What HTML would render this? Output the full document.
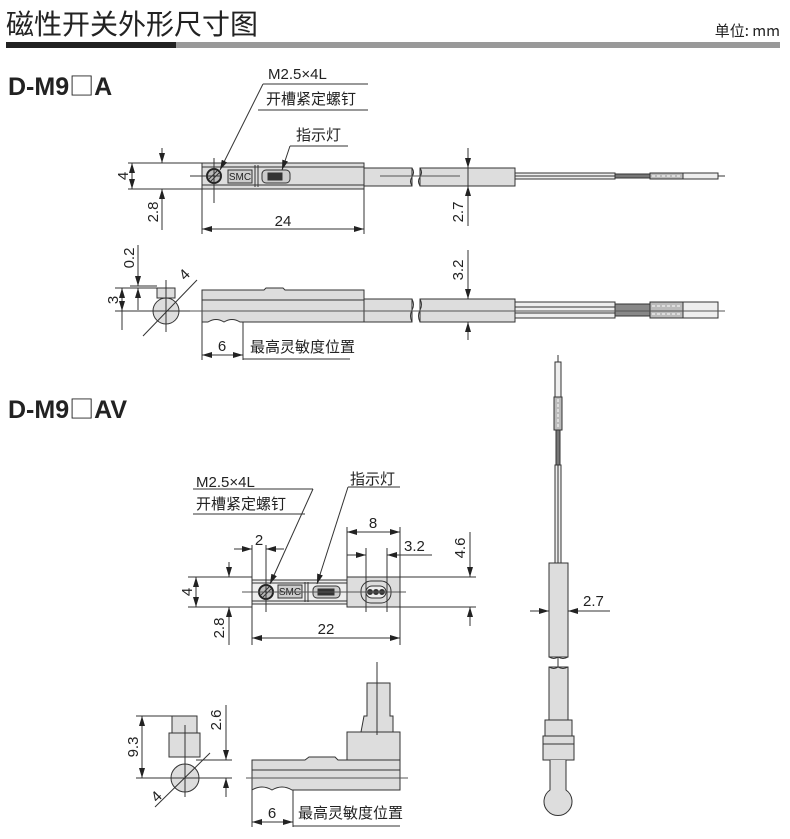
<!DOCTYPE html>
<html><head><meta charset="utf-8"><style>
html,body{margin:0;padding:0;background:#fff;}
svg{display:block;}
text{font-family:"Liberation Sans","Noto Sans CJK SC",sans-serif;fill:#222;}
.c{font-family:"Noto Sans CJK SC","WenQuanYi Zen Hei",sans-serif;}
</style></head><body>
<svg width="790" height="839" viewBox="0 0 790 839" xmlns="http://www.w3.org/2000/svg">
<defs>
<marker id="a" viewBox="0 0 10 6" refX="10" refY="3" markerWidth="10" markerHeight="6" orient="auto-start-reverse" markerUnits="userSpaceOnUse"><path d="M0,0 L10,3 L0,6z" fill="#222"/></marker>
</defs>
<!-- header -->
<text x="6" y="34" class="c" font-size="28" fill="#222">磁性开关外形尺寸图</text>
<text x="780" y="36" class="c" font-size="15" text-anchor="end">单位: mm</text>
<rect x="6" y="42" width="170" height="6" fill="#222"/>
<rect x="176" y="42" width="604" height="6" fill="#999"/>
<text x="8" y="95" font-size="25" font-weight="bold">D-M9<tspan font-family="Noto Sans CJK SC" font-weight="normal">□</tspan>A</text>
<text x="8" y="418" font-size="25" font-weight="bold">D-M9<tspan font-family="Noto Sans CJK SC" font-weight="normal">□</tspan>AV</text>

<g stroke="#333" stroke-width="1" fill="none">
<!-- ===== Section 1 top view ===== -->
<rect x="202" y="163" width="162" height="26" fill="#ddd"/>
<line x1="202" y1="167" x2="364" y2="167"/><line x1="202" y1="185" x2="364" y2="185"/>
<rect x="364" y="168" width="48" height="18" fill="#ddd"/>
<rect x="420" y="168" width="95" height="18" fill="#ddd"/>
<path d="M412,168 q3,4 0,9 q-3,4 0,9 M420,168 q3,4 0,9 q-3,4 0,9" stroke="#333"/>
<rect x="515" y="173" width="100" height="6" fill="#eee"/>
<line x1="515" y1="176" x2="615" y2="176"/>
<rect x="615" y="174" width="35" height="4" fill="#777"/>
<rect x="650" y="173" width="33" height="6" fill="#bbb"/>
<line x1="652" y1="176" x2="682" y2="176" stroke="#fff" stroke-dasharray="3,2"/>
<rect x="683" y="173" width="35" height="6" fill="#eee"/>
<line x1="718" y1="176" x2="725" y2="176"/>
<line x1="380" y1="176" x2="460" y2="176" stroke="#555"/>
<circle cx="214" cy="176" r="7" fill="#bbb" stroke="#222" stroke-width="2"/>
<line x1="209" y1="179" x2="217" y2="171"/><line x1="211" y1="181" x2="219" y2="173"/>
<line x1="214" y1="158" x2="214" y2="203"/><line x1="190" y1="176" x2="222" y2="176"/>
<rect x="228" y="170" width="24" height="13" fill="#ccc"/>
<text x="240" y="180" font-size="10" text-anchor="middle" stroke="none">SMC</text>
<line x1="255" y1="165" x2="255" y2="187"/><line x1="258" y1="165" x2="258" y2="187"/>
<rect x="262" y="170" width="28" height="13" rx="4" fill="#ccc"/>
<rect x="268" y="173" width="14" height="7" fill="#333"/>
<!-- dims -->
<line x1="128" y1="163" x2="202" y2="163"/><line x1="128" y1="189" x2="202" y2="189"/>
<line x1="132" y1="163" x2="132" y2="189" marker-start="url(#a)" marker-end="url(#a)"/>
<line x1="162" y1="148" x2="162" y2="163" marker-end="url(#a)"/>
<line x1="162" y1="230" x2="162" y2="189" marker-end="url(#a)"/>
<line x1="202" y1="189" x2="202" y2="234"/><line x1="364" y1="189" x2="364" y2="234"/>
<line x1="202" y1="229" x2="364" y2="229" marker-start="url(#a)" marker-end="url(#a)"/>
<line x1="468" y1="148" x2="468" y2="168" marker-end="url(#a)"/>
<line x1="468" y1="226" x2="468" y2="186" marker-end="url(#a)"/>
<line x1="468" y1="168" x2="468" y2="186"/>
<!-- leaders -->
<line x1="263" y1="84" x2="368" y2="84"/>
<line x1="258" y1="110" x2="368" y2="110"/>
<line x1="263" y1="84" x2="220" y2="170" marker-end="url(#a)"/>
<line x1="290" y1="146" x2="348" y2="146"/>
<line x1="290" y1="146" x2="282" y2="170" marker-end="url(#a)"/>

<!-- ===== Section 1 side view ===== -->
<path d="M202,322 L202,290 L264,290 L266,288 L283,288 L285,290 L364,290 L364,322 L240,322 q-8,-5 -16,0 q-8,-5 -16,0 Z" fill="#ddd"/>
<line x1="202" y1="300" x2="364" y2="300"/>
<rect x="364" y="299" width="48" height="23" fill="#ddd"/>
<rect x="420" y="299" width="95" height="23" fill="#ddd"/>
<path d="M412,299 q3,6 0,11 q-3,6 0,12 M420,299 q3,6 0,11 q-3,6 0,12"/>
<rect x="515" y="302" width="100" height="16" fill="#eee"/>
<line x1="515" y1="307" x2="615" y2="307"/><line x1="515" y1="313" x2="615" y2="313"/>
<rect x="615" y="304" width="35" height="12" fill="#888"/>
<rect x="650" y="302" width="33" height="16" fill="#bbb"/>
<line x1="652" y1="306" x2="682" y2="306" stroke="#fff" stroke-dasharray="3,2"/>
<line x1="652" y1="314" x2="682" y2="314" stroke="#fff" stroke-dasharray="3,2"/>
<rect x="683" y="302" width="35" height="16" fill="#eee"/>
<line x1="190" y1="311" x2="725" y2="311" stroke="#555"/>
<!-- end view -->
<rect x="157" y="288" width="18" height="10" fill="#ddd"/>
<circle cx="166" cy="311" r="13" fill="#ddd"/>
<line x1="166" y1="280" x2="166" y2="332"/>
<line x1="115" y1="288" x2="175" y2="288"/><line x1="115" y1="311" x2="190" y2="311"/>
<line x1="122" y1="288" x2="122" y2="311" marker-start="url(#a)" marker-end="url(#a)"/>
<line x1="122" y1="311" x2="122" y2="330"/>
<line x1="130" y1="286" x2="157" y2="286"/>
<line x1="138" y1="245" x2="138" y2="286" marker-end="url(#a)"/>
<line x1="138" y1="310" x2="138" y2="288" marker-end="url(#a)"/>
<line x1="143" y1="336" x2="197" y2="280"/>
<!-- dims -->
<line x1="202" y1="322" x2="202" y2="360"/><line x1="243" y1="322" x2="243" y2="360"/>
<line x1="202" y1="355" x2="243" y2="355" marker-start="url(#a)" marker-end="url(#a)"/>
<line x1="243" y1="359" x2="350" y2="359"/>
<line x1="468" y1="250" x2="468" y2="299" marker-end="url(#a)"/>
<line x1="468" y1="340" x2="468" y2="322" marker-end="url(#a)"/>

<!-- ===== Section 2 top view ===== -->
<rect x="252" y="580" width="95" height="24" fill="#eee"/>
<line x1="252" y1="583" x2="347" y2="583"/><line x1="252" y1="601" x2="347" y2="601"/>
<rect x="347" y="577" width="53" height="30" fill="#ddd"/>
<rect x="361" y="581" width="30" height="22" rx="10" fill="#ddd"/>
<rect x="366" y="586" width="20" height="12" rx="6" fill="#eee"/>
<circle cx="370" cy="592" r="2.5" fill="#333"/><circle cx="376" cy="592" r="2.5" fill="#333"/><circle cx="382" cy="592" r="2.5" fill="#333"/>
<circle cx="266" cy="592" r="7" fill="#bbb" stroke="#222" stroke-width="2"/>
<line x1="261" y1="595" x2="269" y2="587"/><line x1="263" y1="597" x2="271" y2="589"/>
<rect x="278" y="585" width="24" height="13" fill="#ccc"/>
<text x="290" y="595" font-size="10" text-anchor="middle" stroke="none">SMC</text>
<line x1="305" y1="582" x2="305" y2="602"/><line x1="308" y1="582" x2="308" y2="602"/>
<rect x="313" y="586" width="27" height="12" rx="4" fill="#ccc"/>
<rect x="318" y="589" width="16" height="6" fill="#333"/>
<line x1="242" y1="592" x2="406" y2="592" stroke="#555"/>
<!-- dims -->
<line x1="188" y1="577" x2="252" y2="577"/><line x1="188" y1="607" x2="252" y2="607"/>
<line x1="196" y1="577" x2="196" y2="607" marker-start="url(#a)" marker-end="url(#a)"/>
<line x1="229" y1="562" x2="229" y2="577" marker-end="url(#a)"/>
<line x1="229" y1="645" x2="229" y2="607" marker-end="url(#a)"/>
<line x1="252" y1="545" x2="252" y2="645"/><line x1="266" y1="545" x2="266" y2="612"/>
<line x1="234" y1="549" x2="252" y2="549" marker-end="url(#a)"/>
<line x1="284" y1="549" x2="266" y2="549" marker-end="url(#a)"/>
<line x1="400" y1="527" x2="400" y2="645"/><line x1="347" y1="527" x2="347" y2="577"/>
<line x1="347" y1="532" x2="400" y2="532" marker-start="url(#a)" marker-end="url(#a)"/>
<line x1="366" y1="548" x2="366" y2="612"/><line x1="387" y1="548" x2="387" y2="612"/>
<line x1="347" y1="555" x2="366" y2="555" marker-end="url(#a)"/>
<line x1="432" y1="555" x2="387" y2="555" marker-end="url(#a)"/>
<line x1="252" y1="638" x2="400" y2="638" marker-start="url(#a)" marker-end="url(#a)"/>
<line x1="400" y1="577" x2="476" y2="577"/><line x1="400" y1="607" x2="476" y2="607"/>
<line x1="470" y1="532" x2="470" y2="577" marker-end="url(#a)"/>
<line x1="470" y1="626" x2="470" y2="607" marker-end="url(#a)"/>
<!-- leaders -->
<line x1="193" y1="489" x2="313" y2="489"/>
<line x1="193" y1="514" x2="305" y2="514"/>
<line x1="313" y1="489" x2="270" y2="584" marker-end="url(#a)"/>
<line x1="348" y1="487" x2="400" y2="487"/>
<line x1="348" y1="487" x2="317" y2="584" marker-end="url(#a)"/>

<!-- ===== Section 2 side view ===== -->
<path d="M252,790 L252,760 L305,760 L309,757 L335,757 L338,760 L347,760 L347,732 L361,732 L364,716 L367,716 L367,683 L390,683 L390,716 L393,716 L393,732 L400,732 L400,790 L292,790 q-10,-6 -20,0 q-10,-6 -20,0 Z" fill="#ddd"/>
<line x1="252" y1="770" x2="400" y2="770"/>
<line x1="347" y1="760" x2="400" y2="760"/>
<line x1="361" y1="732" x2="393" y2="732"/>
<line x1="246" y1="778" x2="408" y2="778" stroke="#555"/>
<line x1="377" y1="662" x2="377" y2="735"/>
<line x1="252" y1="790" x2="252" y2="827"/><line x1="293" y1="790" x2="293" y2="827"/>
<line x1="252" y1="822" x2="293" y2="822" marker-start="url(#a)" marker-end="url(#a)"/>
<line x1="293" y1="826" x2="400" y2="826"/>
<!-- end view 2 -->
<rect x="172" y="716" width="25" height="17" fill="#ddd"/>
<rect x="169" y="733" width="31" height="24" fill="#ddd"/>
<circle cx="185" cy="778" r="14" fill="#ddd"/>
<line x1="185" y1="725" x2="185" y2="797"/>
<line x1="136" y1="716" x2="197" y2="716"/><line x1="136" y1="778" x2="232" y2="778"/>
<line x1="196" y1="760" x2="232" y2="760"/>
<line x1="142" y1="716" x2="142" y2="778" marker-start="url(#a)" marker-end="url(#a)"/>
<line x1="226" y1="705" x2="226" y2="760" marker-end="url(#a)"/>
<line x1="226" y1="797" x2="226" y2="778" marker-end="url(#a)"/>
<line x1="155" y1="807" x2="210" y2="753"/>

<!-- ===== Right vertical ===== -->
<line x1="558" y1="355" x2="558" y2="365"/>
<rect x="555" y="362" width="6" height="35" fill="#eee"/>
<rect x="554" y="397" width="8" height="33" fill="#bbb"/>
<line x1="558" y1="399" x2="558" y2="429" stroke="#fff" stroke-dasharray="3,2"/>
<rect x="556" y="430" width="4" height="35" fill="#777"/>
<rect x="555" y="465" width="6" height="98" fill="#eee"/>
<line x1="558" y1="465" x2="558" y2="740"/>
<rect x="549" y="563" width="19" height="94" fill="#ddd"/>
<rect x="549" y="667" width="19" height="53" fill="#ddd"/>
<path d="M549,657 q5,3 9,0 q5,3 10,0 M549,667 q5,3 9,0 q5,3 10,0"/>
<rect x="545" y="720" width="27" height="16" fill="#ddd"/>
<rect x="543" y="736" width="31" height="24" fill="#ddd"/>
<line x1="543" y1="744" x2="574" y2="744"/>
<path d="M550,760 L550,790 A14,14 0 1 0 566,790 L566,760" fill="#ddd"/>
<line x1="530" y1="611" x2="549" y2="611" marker-end="url(#a)"/>
<line x1="610" y1="611" x2="568" y2="611" marker-end="url(#a)"/>
</g>

<!-- labels -->
<g font-size="15">
<text x="268" y="79">M2.5×4L</text>
<text x="266" y="104" class="c">开槽紧定螺钉</text>
<text x="296" y="140" class="c">指示灯</text>
<text x="283" y="226" text-anchor="middle">24</text>
<text x="222" y="351" text-anchor="middle">6</text>
<text x="250" y="352" class="c">最高灵敏度位置</text>
<text transform="translate(128,176) rotate(-90)" text-anchor="middle">4</text>
<text transform="translate(158,212) rotate(-90)" text-anchor="middle">2.8</text>
<text transform="translate(463,212) rotate(-90)" text-anchor="middle">2.7</text>
<text transform="translate(463,270) rotate(-90)" text-anchor="middle">3.2</text>
<text transform="translate(118,300) rotate(-90)" text-anchor="middle">3</text>
<text transform="translate(134,258) rotate(-90)" text-anchor="middle">0.2</text>
<text transform="translate(188,278) rotate(-45)" text-anchor="middle">4</text>

<text x="196" y="487">M2.5×4L</text>
<text x="196" y="509" class="c">开槽紧定螺钉</text>
<text x="350" y="484" class="c">指示灯</text>
<text x="259" y="545" text-anchor="middle">2</text>
<text x="373" y="528" text-anchor="middle">8</text>
<text x="404" y="551">3.2</text>
<text x="326" y="634" text-anchor="middle">22</text>
<text transform="translate(465,548) rotate(-90)" text-anchor="middle">4.6</text>
<text transform="translate(192,592) rotate(-90)" text-anchor="middle">4</text>
<text transform="translate(224,628) rotate(-90)" text-anchor="middle">2.8</text>
<text x="272" y="818" text-anchor="middle">6</text>
<text x="298" y="818" class="c">最高灵敏度位置</text>
<text transform="translate(138,747) rotate(-90)" text-anchor="middle">9.3</text>
<text transform="translate(221,720) rotate(-90)" text-anchor="middle">2.6</text>
<text transform="translate(160,800) rotate(-45)" text-anchor="middle">4</text>
<text x="583" y="606">2.7</text>
</g>
</svg>
</body></html>
